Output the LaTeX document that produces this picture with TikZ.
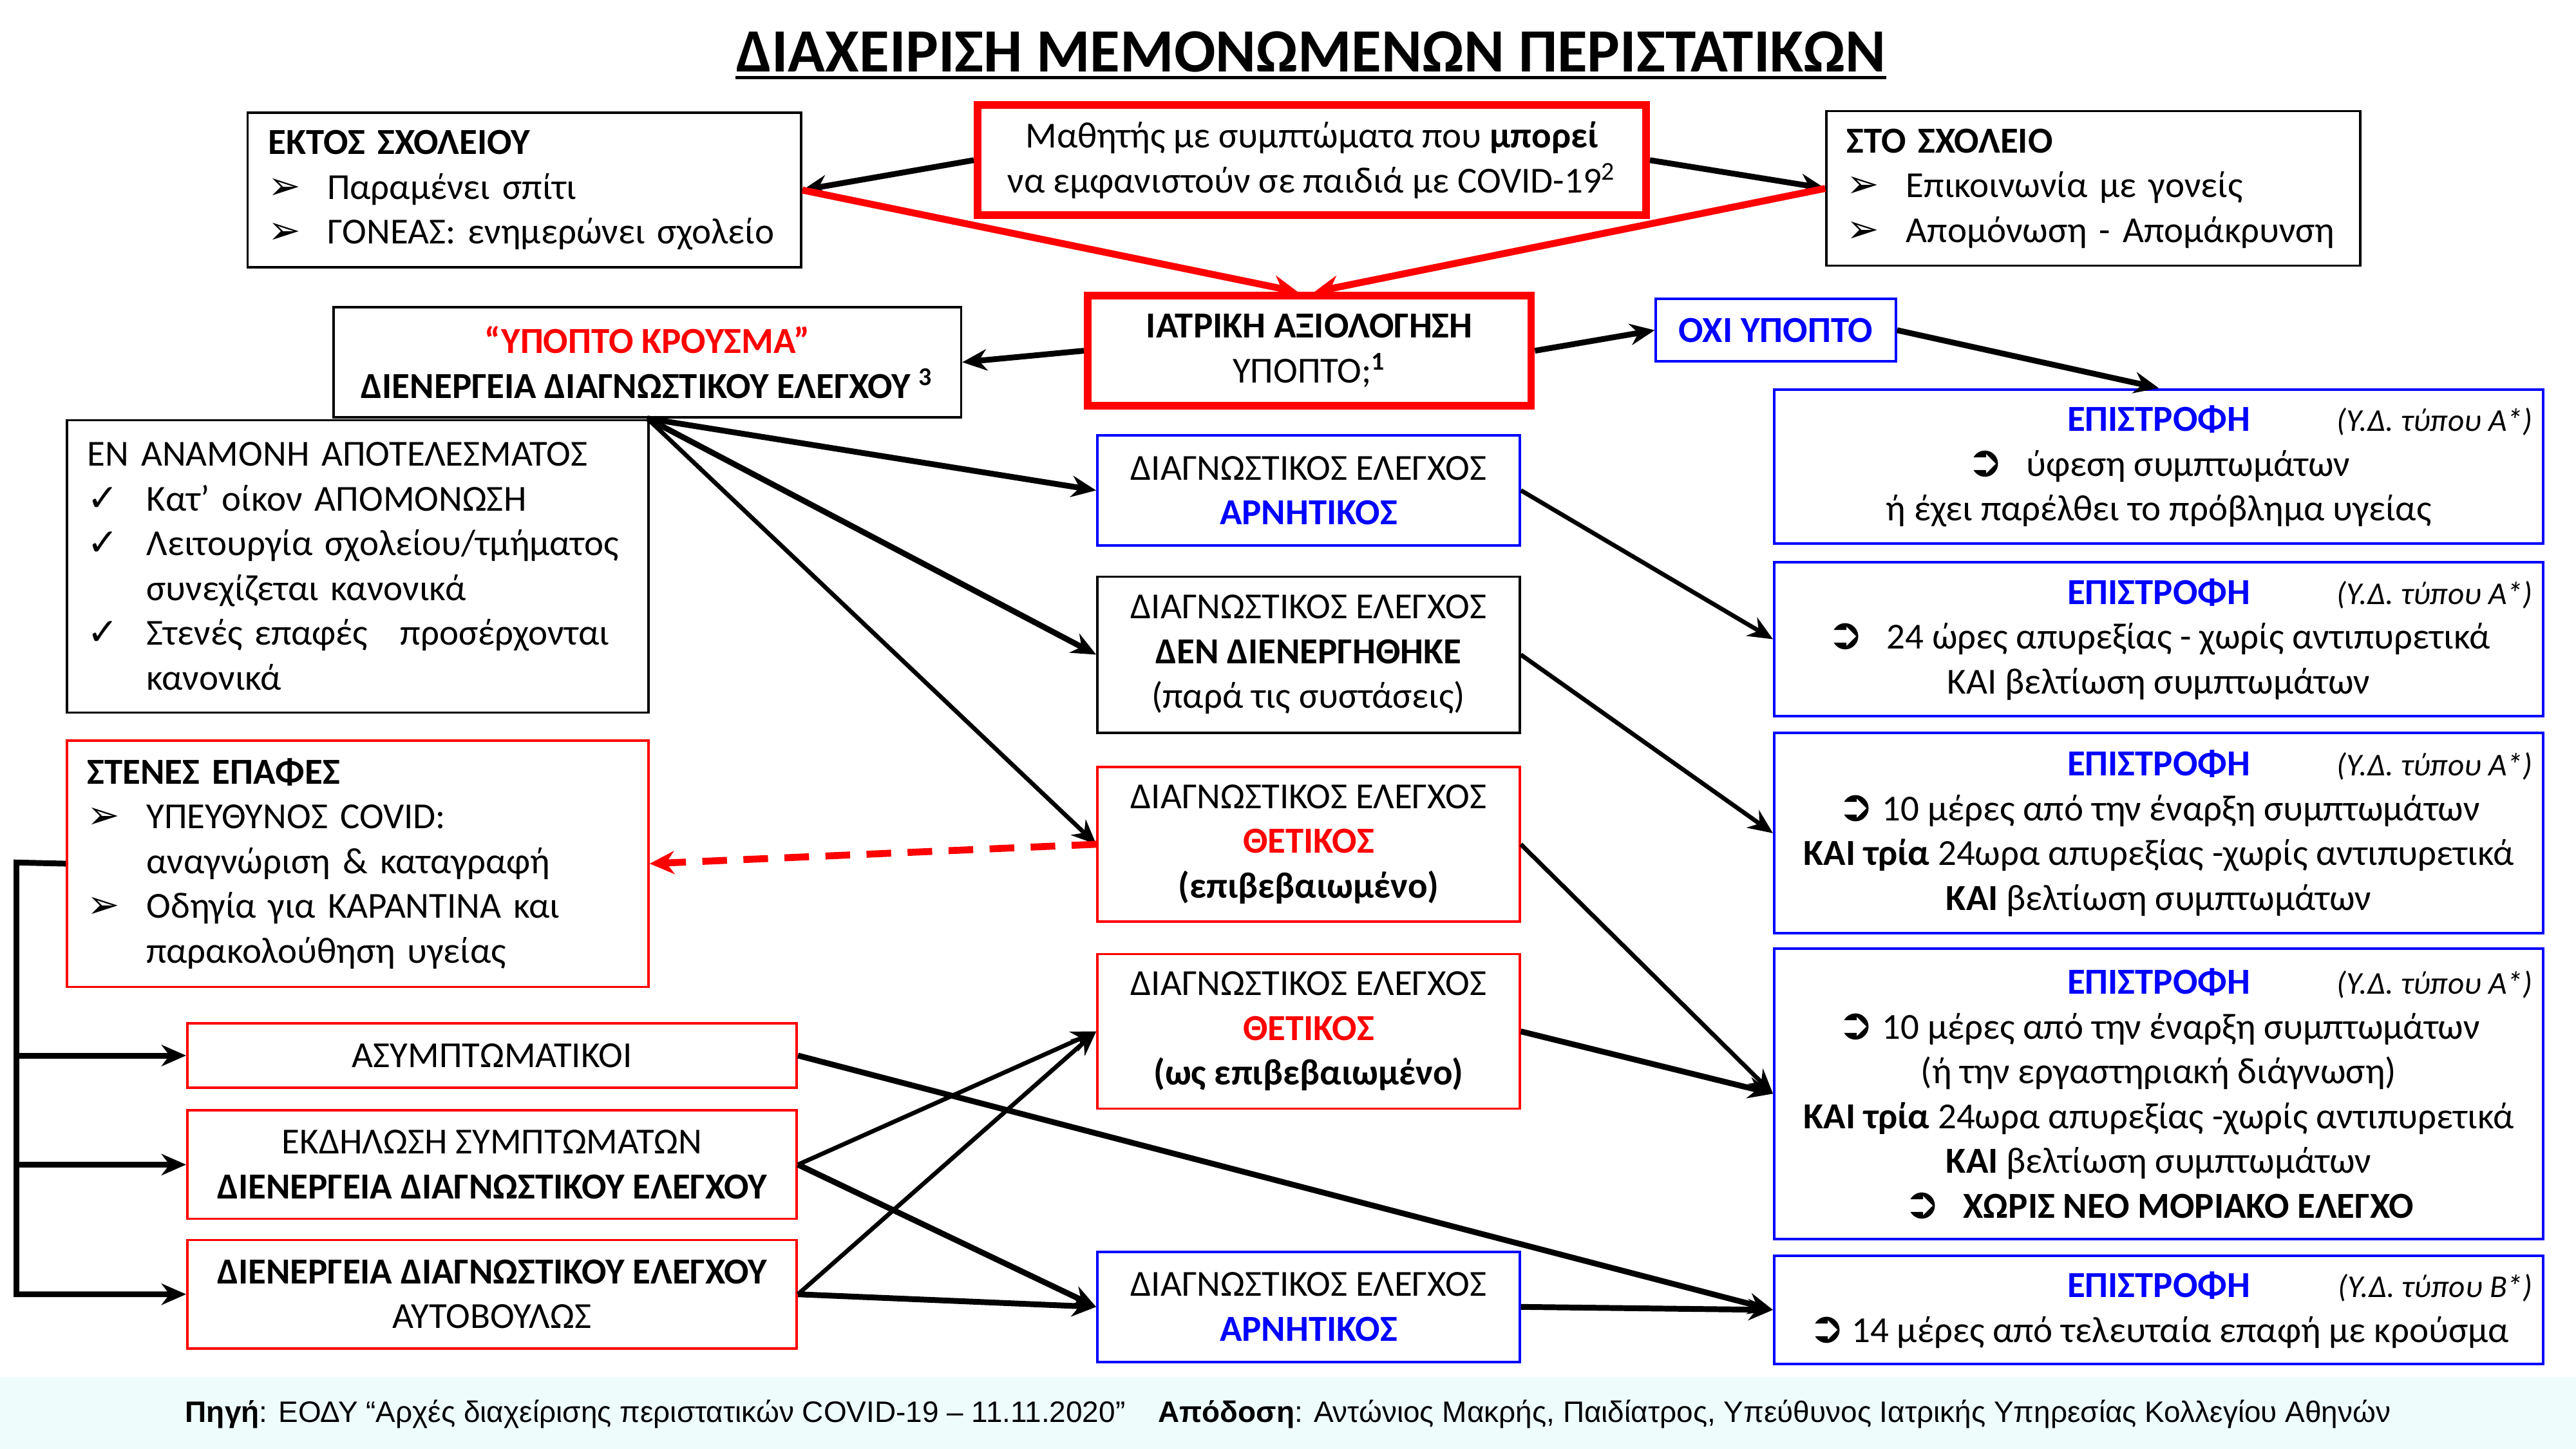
\documentclass[tikz,border=0pt]{standalone}
\usepackage{fontspec}
\setmainfont{Carlito}
\newfontfamily\symfont{DejaVu Sans}
\newfontfamily\footfont{Liberation Sans}
\usepackage{xcolor}
\usetikzlibrary{arrows.meta, positioning}
\definecolor{footbg}{RGB}{238,252,252}
\newcommand{\arrbullet}[1]{\makebox[7.2mm][l]{\symfont\fontsize{13.5}{13}\selectfont ➢}#1}
\newcommand{\chkbullet}[1]{\makebox[7.2mm][l]{\symfont\fontsize{13}{13}\selectfont ✓}#1}
\newcommand{\retbullet}{{\symfont\fontsize{15}{13}\selectfont ➲}}
\newcommand{\ydtype}[1]{{\fontsize{11}{13}\selectfont\itshape (Υ.Δ. τύπου #1*)}}
\newcommand{\rethead}[1]{\makebox[91mm]{\textcolor{blue}{\bfseries ΕΠΙΣΤΡΟΦΗ}}\llap{\ydtype{#1}}}

\begin{document}
\begin{tikzpicture}[
    x=0.2mm, y=-0.2mm,
    every node/.style={font=\fontsize{12.7}{15.5}\selectfont},
    blackbox/.style={rectangle, draw=black, line width=0.8pt, fill=white},
    redbox/.style={rectangle, draw=red, line width=0.8pt, fill=white},
    thickred/.style={rectangle, draw=red, line width=2.6pt, fill=white},
    bluebox/.style={rectangle, draw=blue, line width=0.9pt, fill=white},
    leftbox/.style={align=left, inner xsep=2.5mm, anchor=north west},
    midbox/.style={align=center, minimum width=51.4mm},
    retbox/.style={bluebox, align=center, minimum width=93.6mm, inner xsep=1mm},
    arrow/.style={-{Stealth[length=3mm, width=2.6mm]}, line width=2pt},
    thinarrow/.style={arrow, line width=1.5pt},
    redarrow/.style={-{Stealth[length=3mm, width=2.8mm]}, red, line width=2.4pt},
    dasharrow/.style={redarrow, dash pattern=on 3mm off 2mm}
]
\useasboundingbox (0,0) rectangle (1568,882);
\fill[white] (0,0) rectangle (1568,882);
\fill[footbg] (0,838) rectangle (1568,882);

% title
\node (title) [font=\fontsize{21.3}{24}\selectfont\bfseries, inner sep=0pt] at (798,31.5) {ΔΙΑΧΕΙΡΙΣΗ ΜΕΜΟΝΩΜΕΝΩΝ ΠΕΡΙΣΤΑΤΙΚΩΝ};
\draw[line width=1.2pt] ([yshift=-0.7mm]title.base west) -- ([yshift=-0.7mm]title.base east);

% top row
\node (ekt) [blackbox, leftbox, text width=62.4mm, minimum height=18.8mm] at (150,68)
  {\textbf{ΕΚΤΟΣ ΣΧΟΛΕΙΟΥ}\\ \arrbullet{Παραμένει σπίτι}\\ \arrbullet{ΓΟΝΕΑΣ: ενημερώνει σχολείο}};
\node (mathitis) [thickred, align=center, minimum width=81.4mm, minimum height=13.4mm] at (798.5,97.5)
  {Μαθητής με συμπτώματα που \textbf{μπορεί}\\ να εμφανιστούν σε παιδιά με COVID-19\textsuperscript{2}};
\node (sto) [blackbox, leftbox, text width=60mm, minimum height=18.8mm] at (1111,67)
  {\textbf{ΣΤΟ ΣΧΟΛΕΙΟ}\\ \arrbullet{Επικοινωνία με γονείς}\\ \arrbullet{Απομόνωση - Απομάκρυνση}};

% assessment
\node (iatr) [thickred, align=center, minimum width=54mm, minimum height=13.4mm] at (797,213.5)
  {\textbf{ΙΑΤΡΙΚΗ ΑΞΙΟΛΟΓΗΣΗ}\\ ΥΠΟΠΤΟ;\textsuperscript{\bfseries 1}};
\node (ypopto) [blackbox, align=center, minimum width=76.4mm, minimum height=13.4mm] at (394,220.5)
  {\textcolor{red}{\bfseries “ΥΠΟΠΤΟ ΚΡΟΥΣΜΑ”}\\ \textbf{ΔΙΕΝΕΡΓΕΙΑ ΔΙΑΓΝΩΣΤΙΚΟΥ ΕΛΕΓΧΟΥ \textsuperscript{3}}};
\node (oxi) [bluebox, minimum width=29.2mm, minimum height=7.6mm, text=blue, font=\fontsize{12.7}{15.5}\selectfont\bfseries] at (1081,201) {ΟΧΙ ΥΠΟΠΤΟ};

% left column
\node (anam) [blackbox, leftbox, text width=65.8mm, minimum height=35.6mm] at (40,255)
  {ΕΝ ΑΝΑΜΟΝΗ ΑΠΟΤΕΛΕΣΜΑΤΟΣ\\ \chkbullet{Κατ’ οίκον ΑΠΟΜΟΝΩΣΗ}\\ \chkbullet{Λειτουργία σχολείου/τμήματος}\\
   \hspace*{7.2mm}συνεχίζεται κανονικά\\ \chkbullet{Στενές επαφές\hspace{2.5mm} προσέρχονται}\\ \hspace*{7.2mm}κανονικά};
\node (epafes) [redbox, leftbox, text width=65.8mm, minimum height=30mm] at (40,450)
  {\textbf{ΣΤΕΝΕΣ ΕΠΑΦΕΣ}\\ \arrbullet{ΥΠΕΥΘΥΝΟΣ COVID:}\\ \hspace*{7.2mm}αναγνώριση \& καταγραφή\\
   \arrbullet{Οδηγία για ΚΑΡΑΝΤΙΝΑ και}\\ \hspace*{7.2mm}παρακολούθηση υγείας};
\node (asympt) [redbox, minimum width=74.2mm, minimum height=7.8mm] at (299.5,642.5) {ΑΣΥΜΠΤΩΜΑΤΙΚΟΙ};
\node (ekdil) [redbox, align=center, minimum width=74.2mm, minimum height=13.2mm, below=2.5mm of asympt]
  {ΕΚΔΗΛΩΣΗ ΣΥΜΠΤΩΜΑΤΩΝ\\ \textbf{ΔΙΕΝΕΡΓΕΙΑ ΔΙΑΓΝΩΣΤΙΚΟΥ ΕΛΕΓΧΟΥ}};
\node (auto) [redbox, align=center, minimum width=74.2mm, minimum height=13.2mm, below=2.3mm of ekdil]
  {\textbf{ΔΙΕΝΕΡΓΕΙΑ ΔΙΑΓΝΩΣΤΙΚΟΥ ΕΛΕΓΧΟΥ}\\ ΑΥΤΟΒΟΥΛΩΣ};

% test results
\node (arn1) [bluebox, midbox, minimum height=13.4mm] at (796.5,298.5)
  {ΔΙΑΓΝΩΣΤΙΚΟΣ ΕΛΕΓΧΟΣ\\ \textcolor{blue}{\bfseries ΑΡΝΗΤΙΚΟΣ}};
\node (dendi) [blackbox, midbox, minimum height=19mm, below=3.5mm of arn1]
  {ΔΙΑΓΝΩΣΤΙΚΟΣ ΕΛΕΓΧΟΣ\\ \textbf{ΔΕΝ ΔΙΕΝΕΡΓΗΘΗΚΕ}\\ (παρά τις συστάσεις)};
\node (thet1) [redbox, midbox, minimum height=18.8mm, below=3.9mm of dendi]
  {ΔΙΑΓΝΩΣΤΙΚΟΣ ΕΛΕΓΧΟΣ\\ \textcolor{red}{\bfseries ΘΕΤΙΚΟΣ}\\ \textbf{(επιβεβαιωμένο)}};
\node (thet2) [redbox, midbox, minimum height=18.8mm, below=3.7mm of thet1]
  {ΔΙΑΓΝΩΣΤΙΚΟΣ ΕΛΕΓΧΟΣ\\ \textcolor{red}{\bfseries ΘΕΤΙΚΟΣ}\\ \textbf{(ως επιβεβαιωμένο)}};
\node (arn2) [bluebox, midbox, minimum height=13.4mm] at (796.5,795.5)
  {ΔΙΑΓΝΩΣΤΙΚΟΣ ΕΛΕΓΧΟΣ\\ \textcolor{blue}{\bfseries ΑΡΝΗΤΙΚΟΣ}};

% return to school
\node (ep1) [retbox, minimum height=18.8mm] at (1314,284)
  {\rethead{Α}\\ \retbullet\hspace{2.8mm}ύφεση συμπτωμάτων\\ ή έχει παρέλθει το πρόβλημα υγείας};
\node (ep2) [retbox, minimum height=18.8mm, below=1.9mm of ep1]
  {\rethead{Α}\\ \retbullet\hspace{2.8mm}24 ώρες απυρεξίας - χωρίς αντιπυρετικά\\ ΚΑΙ βελτίωση συμπτωμάτων};
\node (ep3) [retbox, minimum height=24.4mm, below=1.7mm of ep2]
  {\rethead{Α}\\ \retbullet\hspace{1mm}10 μέρες από την έναρξη συμπτωμάτων\\
   \textbf{ΚΑΙ τρία} 24ωρα απυρεξίας -χωρίς αντιπυρετικά\\ \textbf{ΚΑΙ} βελτίωση συμπτωμάτων};
\node (ep4) [retbox, minimum height=35.4mm, below=1.5mm of ep3]
  {\rethead{Α}\\ \retbullet\hspace{1mm}10 μέρες από την έναρξη συμπτωμάτων\\ (ή την εργαστηριακή διάγνωση)\\
   \textbf{ΚΑΙ τρία} 24ωρα απυρεξίας -χωρίς αντιπυρετικά\\ \textbf{ΚΑΙ} βελτίωση συμπτωμάτων\\
   \retbullet\hspace{2.8mm}\textbf{ΧΩΡΙΣ ΝΕΟ ΜΟΡΙΑΚΟ ΕΛΕΓΧΟ}};
\node (ep5) [retbox, minimum height=13.2mm, below=1.7mm of ep4]
  {\rethead{Β}\\ \retbullet\hspace{0.8mm}14 μέρες από τελευταία επαφή με κρούσμα};

% footer
\node (foot) [font=\footfont\fontsize{10.25}{12}\selectfont] at (784,861)
  {\textbf{Πηγή}: ΕΟΔΥ “Αρχές διαχείρισης περιστατικών COVID-19 – 11.11.2020”\hspace{4mm}\textbf{Απόδοση}: Αντώνιος Μακρής, Παιδίατρος, Υπεύθυνος Ιατρικής Υπηρεσίας Κολλεγίου Αθηνών};

% connectors
\draw[arrow] (mathitis.west) -- (ekt.east);
\draw[arrow] (mathitis.east) -- (sto.west);
\draw[redarrow] (ekt.east) -- ([xshift=-1.4mm]iatr.north);
\draw[redarrow] (sto.west) -- ([xshift=0.6mm]iatr.north);
\draw[arrow] (iatr.west) -- (ypopto.east);
\draw[arrow] (iatr.east) -- (oxi.west);
\draw[arrow] (oxi.east) -- (ep1.north);

\draw[arrow] (ypopto.south) -- (arn1.west);
\draw[arrow] (ypopto.south) -- (dendi.west);
\draw[thinarrow] (ypopto.south) -- (thet1.west);
\draw[dasharrow] (thet1.west) -- (epafes.east);

\draw[thinarrow] (arn1.east) -- (ep2.west);
\draw[thinarrow] (dendi.east) -- (ep3.west);
\draw[thinarrow] (thet1.east) -- (ep4.west);
\draw[arrow] (thet2.east) -- (ep4.west);

\coordinate (rail) at (10,525);
\draw[arrow] (epafes.west) -- (rail) |- (auto.west);
\draw[arrow] (rail |- asympt.west) -- (asympt.west);
\draw[arrow] (rail |- ekdil.west) -- (ekdil.west);

\draw[arrow] (asympt.east) -- (ep5.west);
\draw[thinarrow] (ekdil.east) -- (thet2.west);
\draw[arrow] (ekdil.east) -- (arn2.west);
\draw[thinarrow] (auto.east) -- (thet2.west);
\draw[arrow] (auto.east) -- (arn2.west);
\draw[arrow] (arn2.east) -- (ep5.west);
\end{tikzpicture}
\end{document}
